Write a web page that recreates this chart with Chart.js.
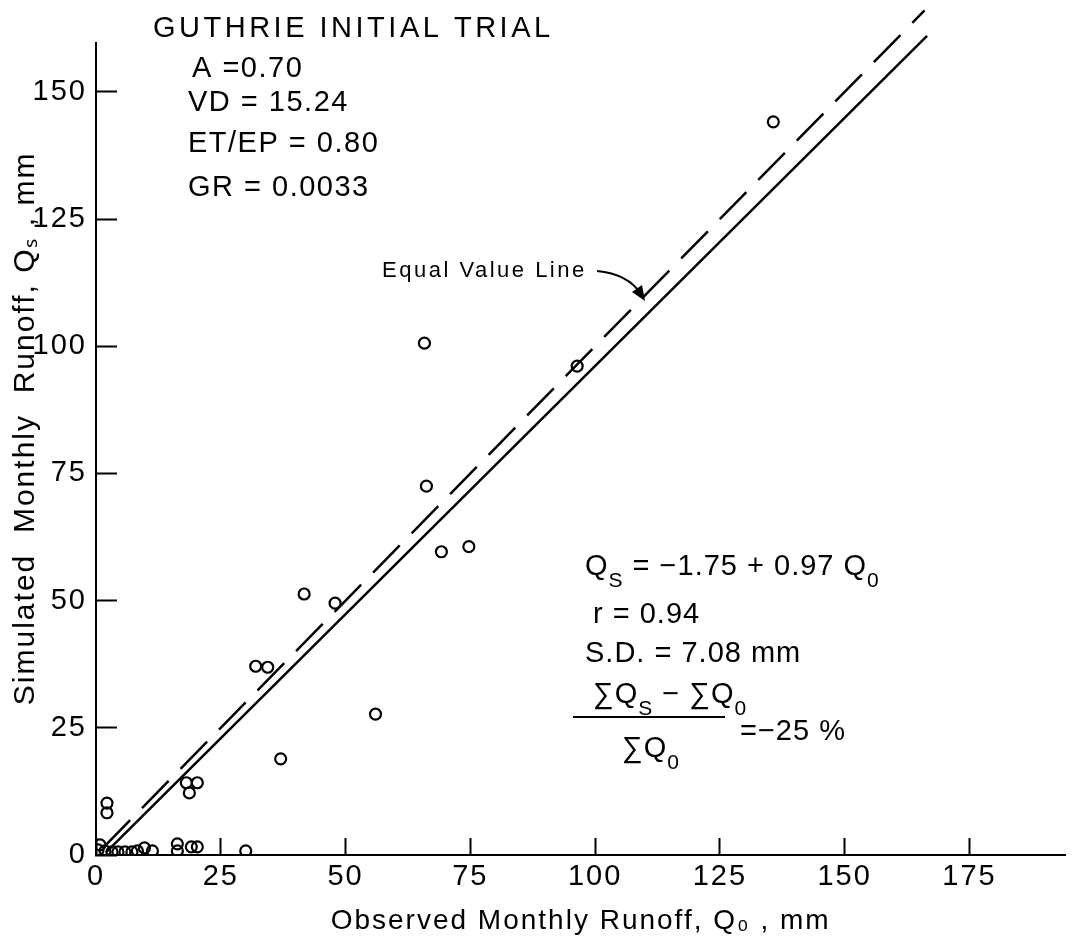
<!DOCTYPE html>
<html>
<head>
<meta charset="utf-8">
<script src="https://cdn.jsdelivr.net/npm/chart.js@4.4.0/dist/chart.umd.min.js"></script>
<style>
  html, body { margin: 0; padding: 0; background: #fff; }
</style>
</head>
<body>
<canvas id="myChart" width="1073" height="942"></canvas>
<script>
// observed (Qo) and simulated (Qs) monthly runoff, mm
const observed  = [135.7, 96.4, 65.8, 66.2, 69.2, 74.7, 41.7, 47.9, 32.0, 34.4, 56.0, 37.0,
                   18.1, 20.3, 18.7, 2.2, 2.2,
                   0.8, 0.4, 1.8, 3.2, 4.4, 5.8, 7.2, 8.3, 9.7, 11.3, 16.3, 16.3, 19.1, 20.3, 30.0];
const simulated = [144.1, 96.1, 100.6, 72.5, 59.6, 60.6, 51.3, 49.5, 37.1, 36.9, 27.7, 18.9,
                   14.2, 14.2, 12.2, 10.2, 8.3,
                   2.0, 1.0, 0.8, 0.6, 0.6, 0.6, 0.6, 0.8, 1.4, 0.8, 2.2, 0.8, 1.6, 1.6, 0.8];

// equal value line (dashed) and fitted line Qs = -1.75 + 0.97 Qo (solid)
const equalLineX = [1.5, 166];
const equalLineY = [1.5, 166];
const fitLineX = [2, 166.5];
const fitLineY = [0.5, 161];

const xTicks = [0, 25, 50, 75, 100, 125, 150, 175];
const yTicks = [0, 25, 50, 75, 100, 125, 150];

const FONT = "'Liberation Sans', Arial, sans-serif";

const toPoints = (xs, ys) => xs.map((x, i) => ({ x: x, y: ys[i] }));

// no extra room for end labels, the axes run to the edges
const noPad = (scale) => {
    scale.paddingLeft = 0;
    scale.paddingRight = 0;
    scale.paddingTop = 0;
    scale.paddingBottom = 0;
};

// spaced-out lettering for the axis text (like the hand lettering)
const spacing = {
    id: "spacing",
    beforeDraw(chart) { chart.ctx.letterSpacing = "2px"; },
    beforeDatasetsDraw(chart) { chart.ctx.letterSpacing = "0px"; },
};

// write text with subscripts: parts = [[text, isSub], ...]
function richText(ctx, parts, x, y, size, sub) {
    for (const [t, isSub] of parts) {
        ctx.font = (isSub ? sub : size) + "px " + FONT;
        ctx.fillText(t, x, isSub ? y + 12 : y);
        x += ctx.measureText(t).width;
    }
    return x;
}

const notes = {
    id: "notes",
    afterDraw(chart) {
        const ctx = chart.ctx;
        ctx.save();
        ctx.fillStyle = "#000";
        ctx.strokeStyle = "#000";
        ctx.textAlign = "left";
        ctx.textBaseline = "alphabetic";

        ctx.font = "29px " + FONT;
        ctx.letterSpacing = "3.5px";
        ctx.fillText("GUTHRIE INITIAL TRIAL", 153, 37);
        ctx.letterSpacing = "1.5px";
        ctx.fillText("A =0.70", 192, 77);
        ctx.fillText("VD = 15.24", 188, 111);
        ctx.fillText("ET/EP = 0.80", 188, 152);
        ctx.fillText("GR = 0.0033", 188, 196);

        // equal value line label and arrow
        ctx.font = "22px " + FONT;
        ctx.letterSpacing = "2.5px";
        ctx.fillText("Equal Value Line", 382, 277);
        ctx.letterSpacing = "0px";
        ctx.lineWidth = 2;
        ctx.beginPath();
        ctx.moveTo(597, 271);
        ctx.quadraticCurveTo(628, 274, 641, 294);
        ctx.stroke();
        ctx.beginPath();
        ctx.moveTo(645, 301);
        ctx.lineTo(632, 292);
        ctx.lineTo(642, 285);
        ctx.closePath();
        ctx.fill();

        // regression statistics
        ctx.letterSpacing = "1px";
        richText(ctx, [["Q", false], ["S", true], [" = \u22121.75 + 0.97 Q", false], ["0", true]], 585, 575, 29, 21);
        richText(ctx, [["r = 0.94", false]], 593, 623, 29, 21);
        richText(ctx, [["S.D. = 7.08 mm", false]], 585, 662, 29, 21);
        richText(ctx, [["\u2211Q", false], ["S", true], [" \u2212 \u2211Q", false], ["0", true]], 593, 703, 29, 21);
        ctx.lineWidth = 2;
        ctx.beginPath();
        ctx.moveTo(573, 717);
        ctx.lineTo(725, 717);
        ctx.stroke();
        richText(ctx, [["\u2211Q", false], ["0", true]], 622, 757, 29, 21);
        richText(ctx, [["=\u221225 %", false]], 740, 740, 29, 21);
        ctx.restore();
    },
};

const ctx = document.getElementById("myChart").getContext("2d");
const myChart = new Chart(ctx, {
    type: "scatter",
    data: {
        datasets: [
            {
                label: "months",
                data: toPoints(observed, simulated),
                pointStyle: "circle",
                pointRadius: 5.5,
                pointBorderWidth: 2.2,
                borderColor: "#000",
                backgroundColor: "rgba(0,0,0,0)",
            },
            {
                label: "equal value line",
                data: toPoints(equalLineX, equalLineY),
                showLine: true,
                pointRadius: 0,
                borderColor: "#000",
                borderWidth: 2.5,
                borderDash: [38, 17],
                clip: false,
            },
            {
                label: "fitted line",
                data: toPoints(fitLineX, fitLineY),
                showLine: true,
                pointRadius: 0,
                borderColor: "#000",
                borderWidth: 2.5,
                clip: false,
            },
        ],
    },
    options: {
        responsive: false,
        animation: false,
        devicePixelRatio: 1,
        layout: { padding: { top: 43, right: 0, bottom: 0, left: 0 } },
        plugins: {
            legend: { display: false },
            tooltip: { enabled: false },
        },
        scales: {
            x: {
                type: "linear",
                min: 0,
                max: 194.2,
                afterBuildTicks: (scale) => { scale.ticks = xTicks.map((v) => ({ value: v })); },
                afterFit: (scale) => { scale.height = 87; noPad(scale); },
                grid: { drawOnChartArea: false, drawTicks: true, tickLength: -17, tickWidth: 2, tickColor: "#000" },
                border: { display: true, color: "#000", width: 2 },
                ticks: { color: "#000", font: { family: FONT, size: 29 }, padding: 22, maxRotation: 0, autoSkip: false },
                title: {
                    display: true,
                    text: "Observed Monthly Runoff, Q\u2080 , mm",
                    color: "#000",
                    font: { family: FONT, size: 28 },
                    padding: { top: 0, bottom: 4 },
                },
            },
            y: {
                type: "linear",
                min: 0,
                max: 159.6,
                afterBuildTicks: (scale) => { scale.ticks = yTicks.map((v) => ({ value: v })); },
                afterFit: (scale) => { scale.width = 96; noPad(scale); },
                grid: { drawOnChartArea: false, drawTicks: true, tickLength: -21, tickWidth: 2, tickColor: "#000" },
                border: { display: true, color: "#000", width: 2 },
                ticks: { color: "#000", font: { family: FONT, size: 29 }, padding: 30, autoSkip: false },
                title: {
                    display: true,
                    text: "    Simulated  Monthly  Runoff, Q\u209b , mm",
                    color: "#000",
                    font: { family: FONT, size: 30 },
                    padding: { top: 8, bottom: 0 },
                },
            },
        },
    },
    plugins: [spacing, notes],
});
</script>
</body>
</html>
